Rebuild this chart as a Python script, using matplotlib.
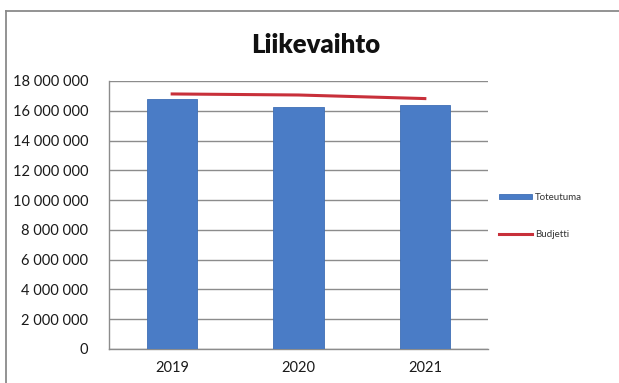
import matplotlib
matplotlib.use("Agg")
import matplotlib.pyplot as plt
from matplotlib.ticker import FuncFormatter
from matplotlib.lines import Line2D

years = ["2019", "2020", "2021"]
toteutuma = [16800000, 16250000, 16400000]
budjetti = [17130000, 17060000, 16820000]
yticks = list(range(0, 18000001, 2000000))

plt.rcParams['font.family'] = ['Lato', 'DejaVu Sans']

W, H = 619, 383
fig = plt.figure(figsize=(W / 100, H / 100), dpi=100)
fig.patch.set_facecolor('white')

# outer chart border (top and left edges visible)
fig.lines.append(Line2D([6 / W, 1.01], [1 - 11 / H, 1 - 11 / H], transform=fig.transFigure,
                        color='#8a8a8a', linewidth=1.3))
fig.lines.append(Line2D([6 / W, 6 / W], [-0.01, 1 - 11 / H], transform=fig.transFigure,
                        color='#8a8a8a', linewidth=1.3))

ax = fig.add_axes([109 / W, 1 - 349 / H, (488 - 109) / W, (349 - 81) / H])
x = list(range(len(years)))
bars = ax.bar(x, toteutuma, width=0.4, color='#4a7cc6', edgecolor='#3f6fb5', linewidth=0.6,
              label='Toteutuma', zorder=3)
line, = ax.plot(x, budjetti, color='#c8303a', linewidth=2.2, label='Budjetti', zorder=4)

ax.set_xlim(-0.5, 2.5)
ax.set_ylim(0, 18000000)
ax.set_yticks(yticks)
ax.yaxis.set_major_formatter(FuncFormatter(lambda v, p: f"{int(v):,}".replace(",", " ")))
ax.set_xticks(x)
ax.set_xticklabels(years)
ax.grid(axis='y', color='#8c8c8c', linewidth=1.0, zorder=0)
for s in ['top', 'right']:
    ax.spines[s].set_visible(False)
for s in ['left', 'bottom']:
    ax.spines[s].set_color('#8c8c8c')
    ax.spines[s].set_linewidth(1.0)
ax.tick_params(axis='both', length=0, labelsize=10.5, colors='#1a1a1a')
ax.tick_params(axis='y', pad=15)
ax.tick_params(axis='x', pad=9)

fig.text(316 / W, 1 - 45 / H, 'Liikevaihto', ha='center', va='center', fontsize=18.5,
         fontweight='heavy', color='#111111')

fig.legend([bars, line], ['Toteutuma', 'Budjetti'], loc='upper left',
           bbox_to_anchor=(490 / W, 1 - 184 / H), frameon=False,
           fontsize=7, handlelength=3.4, handletextpad=0.3, labelspacing=2.9,
           handleheight=0.5, labelcolor='#333333')

fig.savefig('out.png', dpi=100)
